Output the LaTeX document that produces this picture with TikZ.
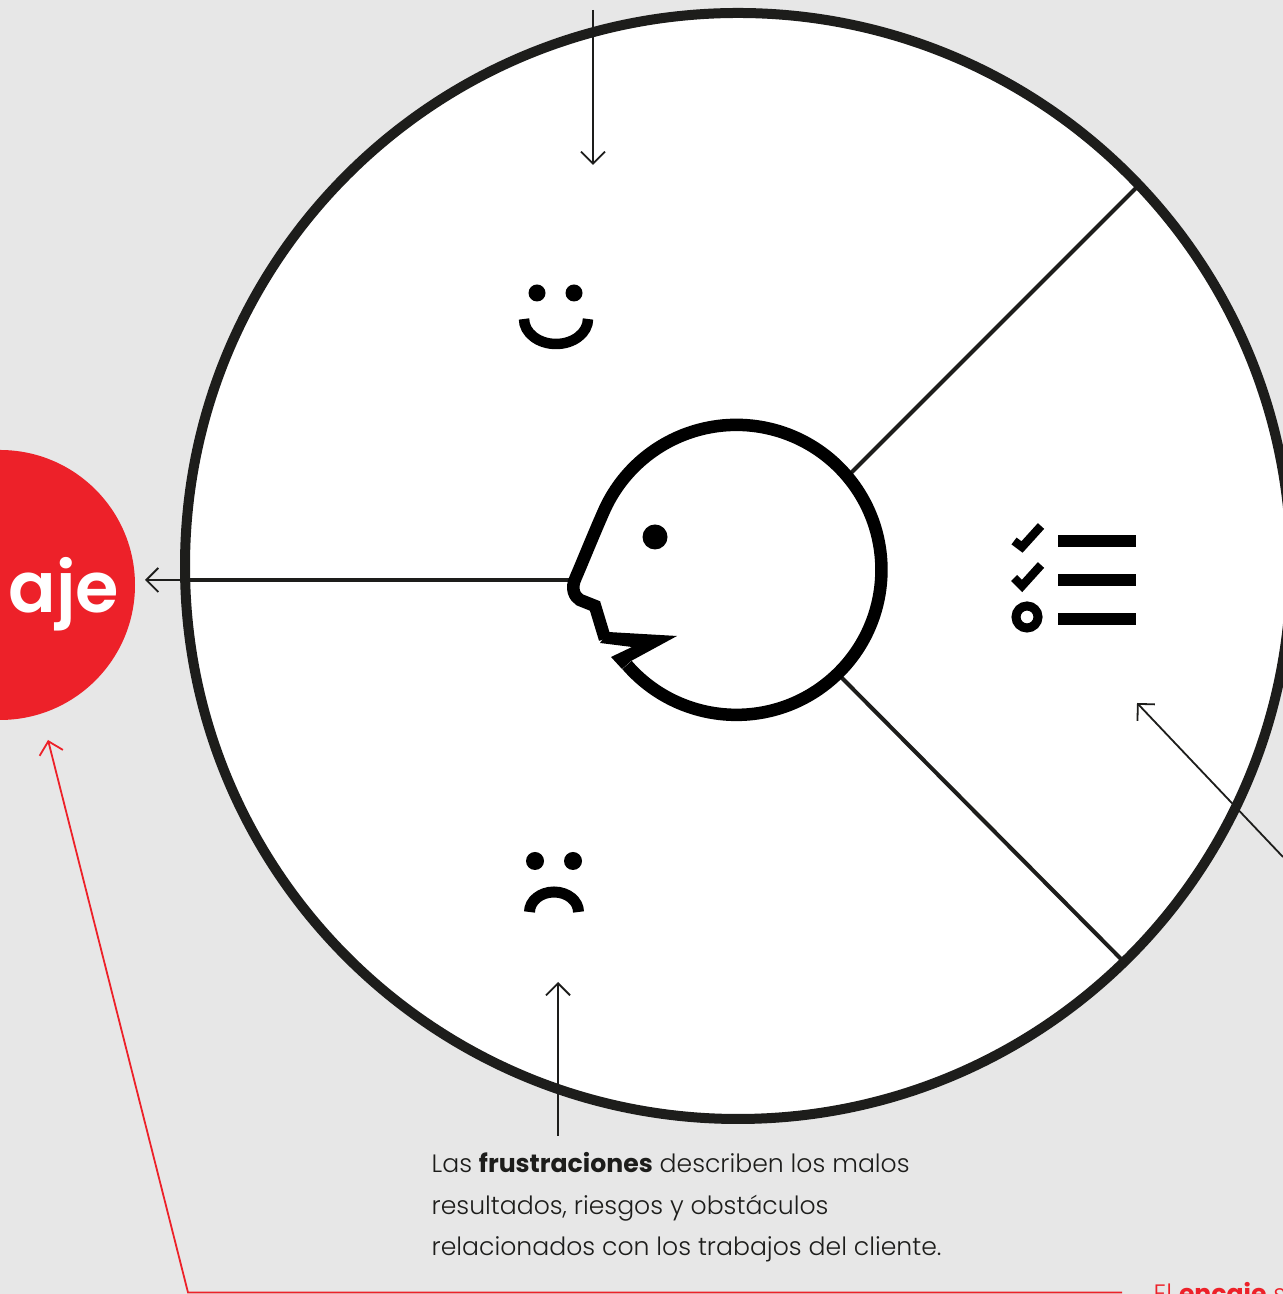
\documentclass[tikz,border=0pt]{standalone}
\usepackage{fontspec}
\setmainfont{Poppins}[UprightFont=* Light,BoldFont=* Bold]
\newfontfamily\wordfont{Poppins}[UprightFont=* SemiBold]
\usetikzlibrary{arrows.meta}
\definecolor{paper}{HTML}{E7E7E7}
\definecolor{ink}{HTML}{1D1D1B}
\definecolor{fitred}{HTML}{ED2129}
\tikzset{
    pointer/.style={draw=ink, line width=.018cm, -{Straight Barb[length=.12cm,width=.24cm]}},
    redpointer/.style={draw=fitred, line width=.018cm, -{Straight Barb[length=.12cm,width=.24cm]}},
    spoke/.style={draw=ink, line width=.04cm},
    iconline/.style={draw=black, line width=.125cm},
    tick/.style={draw=black, line width=.085cm},
    dot/.style={fill=black, circle, inner sep=0pt},
    caption/.style={anchor=base west, align=left, inner sep=0pt, text=ink, font=\fontsize{7.15pt}{11.9pt}\selectfont},
}
\begin{document}
\begin{tikzpicture}
            \useasboundingbox (0,0) rectangle (12.83,12.94);
            \clip (0,0) rectangle (12.83,12.94);
            \fill[paper] (0,0) rectangle (12.83,12.94);
            % red circle
            \node[fill=fitred, circle, minimum size=2.7cm, inner sep=0pt] (fit) at (0,7.09) {};
            \node[anchor=base, text=white, font=\fontsize{20pt}{20pt}\wordfont] (fitword) at (.64,6.81) {aje};
            % big circle
            \node[fill=white, draw=ink, line width=.10cm, circle, minimum size=11.06cm, inner sep=0pt] (wheel) at (7.38,7.28) {};
            % coordinates for the edges
            \coordinate (noseEnd) at (5.75,7.14);
            \coordinate (rimLeft) at (1.90,7.14);
            \coordinate (leftTip) at (1.45,7.14);
            \coordinate (upperEnd) at (8.40,8.10);
            \coordinate (upperRim) at (11.37,11.07);
            \coordinate (lowerEnd) at (8.38,6.20);
            \coordinate (lowerRim) at (11.22,3.34);
            \coordinate (topStart) at (5.93,12.84);
            \coordinate (topTip) at (5.93,11.29);
            \coordinate (rightStart) at (12.83,4.37);
            \coordinate (rightTip) at (11.37,5.91);
            \coordinate (redStart) at (11.22,.015);
            \coordinate (redBend) at (1.88,.015);
            \coordinate (redTip) at (.48,5.54);
            % spokes
            \draw[spoke] (noseEnd) -- (rimLeft);
            \draw[spoke] (upperEnd) -- (upperRim);
            \draw[spoke] (lowerEnd) -- (lowerRim);
            % thin arrows
            \draw[pointer] (rimLeft) -- (leftTip);
            \draw[pointer] (topStart) -- (topTip);
            \draw[pointer] (rightStart) -- (rightTip);
            % head
            \draw[fill=white, draw=black, line width=.125cm] (6.27,6.29) arc[start angle=221, end angle=515, radius=1.45]
                .. controls (5.95,7.63) and (5.85,7.38) .. (5.76,7.17) .. controls (5.70,7.05) and (5.75,6.97) .. (5.80,6.94) -- (5.95,6.88) -- (6.05,6.55);
            \fill[black] (6.08,6.62) -- (6.77,6.58) -- (6.31,6.33) -- (6.22,6.25) -- (6.11,6.37) -- (6.32,6.47) -- (6.00,6.51) -- cycle;
            \node[dot, minimum size=.25cm] (headEye) at (6.55,7.57) {};
            % smile
            \node[dot, minimum size=.17cm] (smileLeft) at (5.37,10.01) {};
            \node[dot, minimum size=.17cm] (smileRight) at (5.74,10.01) {};
            \draw[draw=black, line width=.105cm] (5.24,9.75) arc[start angle=180, end angle=360, x radius=.32, y radius=.25];
            % frown
            \node[dot, minimum size=.18cm] (frownLeft) at (5.35,4.33) {};
            \node[dot, minimum size=.18cm] (frownRight) at (5.73,4.33) {};
            \draw[draw=black, line width=.11cm] (5.295,3.82) arc[start angle=180, end angle=0, x radius=.245, y radius=.20];
            % checklist
            \draw[tick] (10.14,7.53) -- (10.22,7.47) -- (10.41,7.68);
            \draw[tick] (10.14,7.16) -- (10.22,7.08) -- (10.41,7.29);
            \node[draw=black, line width=.09cm, circle, minimum size=.22cm, inner sep=0pt] (todoRing) at (10.27,6.77) {};
            \draw[iconline] (10.58,7.53) -- (11.36,7.53);
            \draw[iconline] (10.58,7.14) -- (11.36,7.14);
            \draw[iconline] (10.58,6.75) -- (11.36,6.75);
            % caption
            \node[caption] (pains) at (4.31,.38) {Las \textbf{frustraciones} describen los malos\\resultados, riesgos y obstáculos\\relacionados con los trabajos del cliente.};
            \coordinate (bottomStart) at (5.58,1.58);
            \coordinate (bottomTip) at (5.58,3.12);
            \draw[pointer] (bottomStart) -- (bottomTip);
            % red line and text
            \node[anchor=base west, inner sep=0pt, text=fitred, font=\fontsize{7.15pt}{11.9pt}\selectfont] (fitnote) at (11.53,-.08) {El \textbf{encaje} s};
            \draw[redpointer] (redStart) -- (redBend) -- (redTip);
        \end{tikzpicture}
\end{document}
